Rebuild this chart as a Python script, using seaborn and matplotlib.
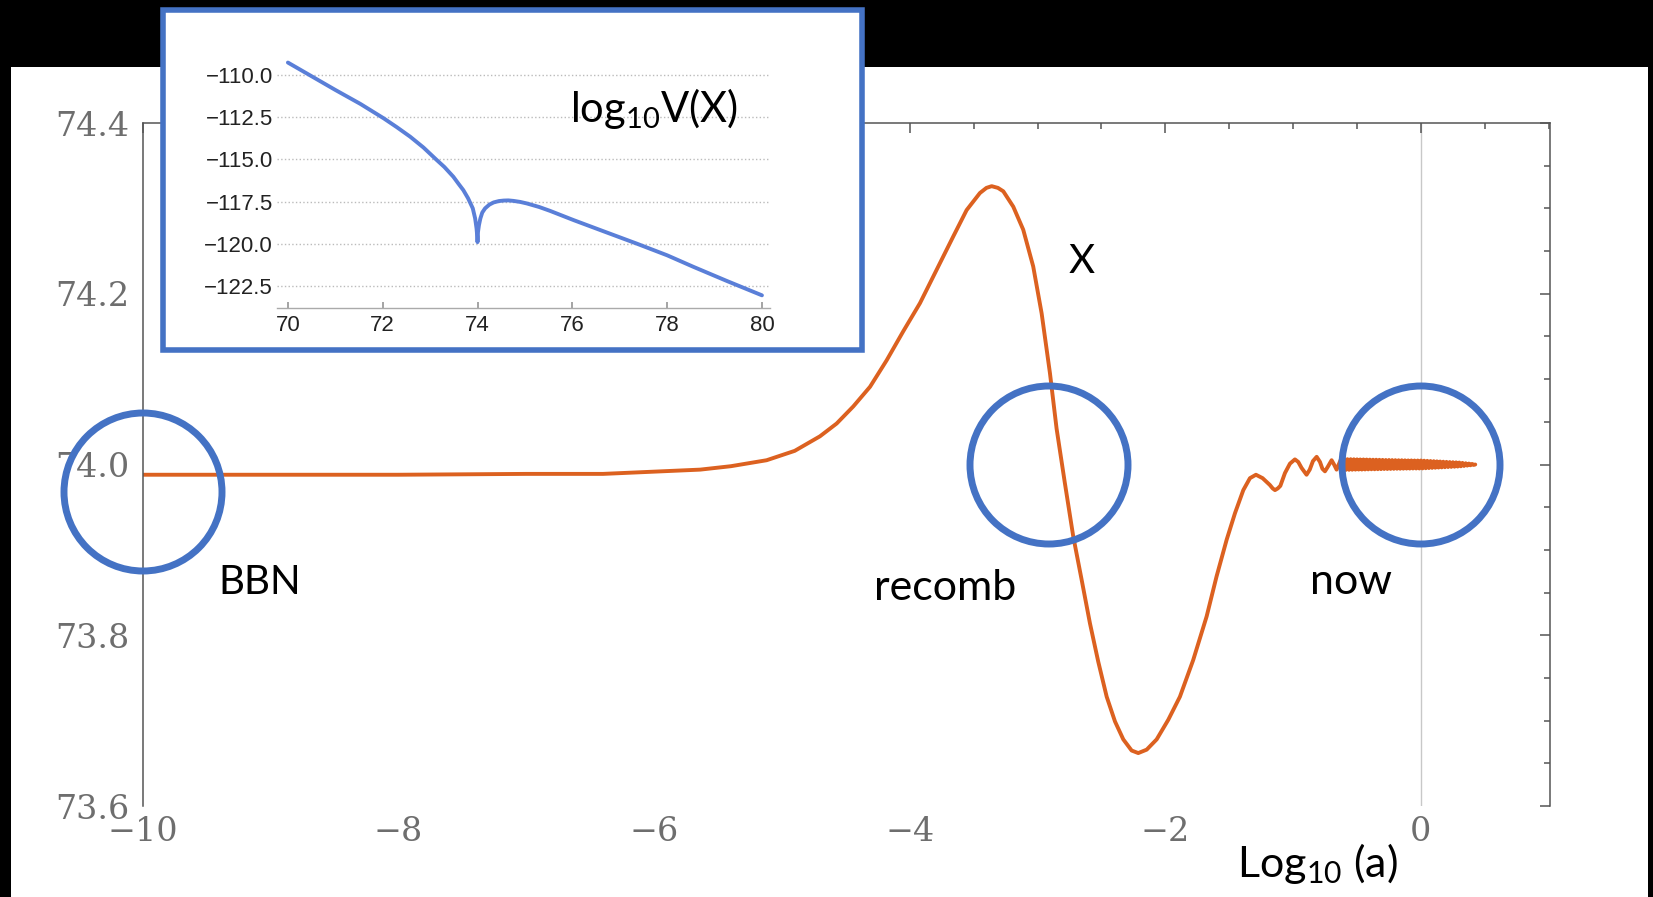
import numpy as np
import pandas as pd
import seaborn as sns
import matplotlib.pyplot as plt
from matplotlib.patches import Rectangle, Ellipse
from matplotlib.ticker import MultipleLocator, FuncFormatter

# main curve: X field vs log10(a)
log_a = [-10.0, -9.0, -8.0, -7.0, -6.4, -5.64, -5.4, -5.12, -4.9, -4.703, -4.572,
         -4.442, -4.311, -4.181, -4.051, -3.920, -3.790, -3.660, -3.555, -3.451,
         -3.40, -3.359, -3.31, -3.268, -3.190, -3.112, -3.034, -2.968, -2.903,
         -2.851, -2.786, -2.721, -2.655, -2.590, -2.525, -2.459, -2.394, -2.329,
         -2.264, -2.212, -2.146, -2.068, -1.977, -1.886, -1.782, -1.677, -1.599,
         -1.520, -1.455, -1.390, -1.338, -1.291, -1.239, -1.21, -1.182, -1.16,
         -1.142, -1.12, -1.10, -1.064, -1.025, -0.986, -0.96, -0.934, -0.895,
         -0.87, -0.845, -0.816, -0.79, -0.771, -0.751, -0.73, -0.699, -0.68, -0.660]
x_field = [73.988, 73.988, 73.988, 73.989, 73.989, 73.994, 73.998, 74.005, 74.016,
           74.033, 74.048, 74.068, 74.091, 74.122, 74.156, 74.189, 74.228, 74.267,
           74.298, 74.318, 74.324, 74.326, 74.324, 74.320, 74.302, 74.275, 74.232,
           74.177, 74.107, 74.042, 73.978, 73.916, 73.865, 73.814, 73.769, 73.728,
           73.699, 73.678, 73.665, 73.662, 73.666, 73.678, 73.701, 73.728, 73.771,
           73.822, 73.869, 73.912, 73.943, 73.970, 73.984, 73.988, 73.984, 73.980,
           73.976, 73.972, 73.970, 73.972, 73.975, 73.990, 74.001, 74.006, 74.003,
           73.996, 73.988, 73.994, 74.004, 74.009, 74.003, 73.995, 73.992, 73.997,
           74.005, 74.000, 73.994]

# fast oscillations near today (the thick band)
band_a = [-0.6250, -0.6125, -0.6000, -0.5875, -0.5750, -0.5625, -0.5500, -0.5375,
          -0.5250, -0.5125, -0.5000, -0.4875, -0.4750, -0.4625, -0.4500, -0.4375,
          -0.4250, -0.4125, -0.4000, -0.3875, -0.3750, -0.3625, -0.3500, -0.3375,
          -0.3250, -0.3125, -0.3000, -0.2875, -0.2750, -0.2625, -0.2500, -0.2375,
          -0.2250, -0.2125, -0.2000, -0.1875, -0.1750, -0.1625, -0.1500, -0.1375,
          -0.1250, -0.1125, -0.1000, -0.0875, -0.0750, -0.0625, -0.0500, -0.0375,
          -0.0250, -0.0125, 0.0000, 0.0125, 0.0250, 0.0375, 0.0500, 0.0625, 0.0750,
          0.0875, 0.1000, 0.1125, 0.1250, 0.1375, 0.1500, 0.1625, 0.1750, 0.1875,
          0.2000, 0.2125, 0.2250, 0.2375, 0.2500, 0.2625, 0.2750, 0.2875, 0.3000,
          0.3125, 0.3250, 0.3375, 0.3500, 0.3625, 0.3750, 0.3875, 0.4000, 0.4125,
          0.4250]
band_x = [74.0064, 73.9936, 74.0063, 73.9937, 74.0062, 73.9938, 74.0062, 73.9939,
          74.0061, 73.9940, 74.0060, 73.9941, 74.0059, 73.9941, 74.0059, 73.9942,
          74.0058, 73.9943, 74.0057, 73.9944, 74.0056, 73.9944, 74.0056, 73.9945,
          74.0055, 73.9946, 74.0054, 73.9947, 74.0053, 73.9947, 74.0053, 73.9948,
          74.0052, 73.9949, 74.0051, 73.9950, 74.0050, 73.9950, 74.0050, 73.9951,
          74.0049, 73.9952, 74.0048, 73.9952, 74.0048, 73.9953, 74.0047, 73.9953,
          74.0047, 73.9953, 74.0047, 73.9954, 74.0045, 73.9956, 74.0043, 73.9958,
          74.0041, 73.9960, 74.0039, 73.9962, 74.0037, 73.9964, 74.0035, 73.9966,
          74.0033, 73.9968, 74.0031, 73.9970, 74.0029, 73.9972, 74.0027, 73.9974,
          74.0025, 73.9976, 74.0023, 73.9979, 74.0019, 73.9983, 74.0015, 73.9987,
          74.0011, 73.9991, 74.0007, 73.9995, 74.0000]

# inset: log10 V(X)
inset_x = [70.0, 70.5, 71.0, 71.53, 72.02, 72.3, 72.58, 72.86, 73.14, 73.3, 73.49,
           73.6, 73.7, 73.8, 73.9, 73.95, 73.98, 73.995, 74.0, 74.01, 74.03, 74.06,
           74.1, 74.16, 74.25, 74.34, 74.45, 74.55, 74.65, 74.76, 74.9, 75.04, 75.3,
           75.53, 76.03, 76.66, 77.36, 78.0, 78.56, 79.26, 80.0]
inset_v = [-109.27, -110.08, -110.89, -111.72, -112.57, -113.1, -113.66, -114.3,
           -115.04, -115.45, -116.03, -116.45, -116.82, -117.3, -117.9, -118.5,
           -119.1, -119.6, -119.9, -119.3, -118.9, -118.5, -118.15, -117.9, -117.68,
           -117.55, -117.47, -117.44, -117.43, -117.46, -117.52, -117.61, -117.82,
           -118.05, -118.6, -119.26, -119.99, -120.68, -121.37, -122.2, -123.05]

W, H = 1653, 897
BLUE = "#4472C4"
ORANGE = "#DC6120"

sns.set_theme(style="white")
plt.rcParams["mathtext.fontset"] = "custom"
plt.rcParams["mathtext.rm"] = "Lato"
plt.rcParams["mathtext.it"] = "Lato:italic"
plt.rcParams["mathtext.bf"] = "Lato:bold"

fig = plt.figure(figsize=(W / 100, H / 100), dpi=100, facecolor="black")

def fx(px):
    return px / W

def fy(py):
    return 1 - py / H

# white page under the black frame
fig.patches.append(Rectangle((fx(11), 0), fx(1648) - fx(11), fy(67), transform=fig.transFigure,
                             facecolor="white", edgecolor="none", zorder=-10))

# ---- main axes ----
ax = fig.add_axes([fx(143), fy(806), fx(1550) - fx(143), fy(123) - fy(806)], zorder=0)
ax.set_facecolor("none")
main = pd.DataFrame({"a": log_a + band_a, "x": x_field + band_x})
sns.lineplot(data=main, x="a", y="x", ax=ax, color=ORANGE, lw=2.8, estimator=None, sort=False)
ax.axvline(0, color="#C8C8C8", lw=1.0, zorder=0.5)
ax.set_xlim(-10, 1.01)
ax.set_ylim(73.6, 74.4)
ax.set_xlabel("")
ax.set_ylabel("")
ax.set_xticks([-10, -8, -6, -4, -2, 0])
ax.xaxis.set_minor_locator(MultipleLocator(0.5))
ax.set_yticks([73.6, 73.8, 74.0, 74.2, 74.4])
ax.yaxis.set_minor_locator(MultipleLocator(0.05))
ax.yaxis.set_major_formatter(FuncFormatter(lambda v, p: f"{v:.1f}"))
ax.tick_params(which="both", direction="in", top=True, right=True, color="#555555", width=1.1)
ax.tick_params(which="major", length=7)
ax.tick_params(which="minor", length=4)
ax.tick_params(axis="x", which="major", pad=7)
ax.tick_params(axis="y", which="major", pad=10)
for lab in ax.get_xticklabels() + ax.get_yticklabels():
    lab.set_fontfamily("DejaVu Serif")
    lab.set_fontsize(24)
    lab.set_color("#6E6E6E")
for side in ["left", "right", "top"]:
    ax.spines[side].set_color("#555555")
    ax.spines[side].set_linewidth(1.1)
ax.spines["bottom"].set_visible(False)

# ---- inset box ----
fig.patches.append(Rectangle((fx(162.5), fy(350.5)), fx(861.5) - fx(162.5), fy(10.5) - fy(350.5),
                             transform=fig.transFigure, facecolor="white", edgecolor=BLUE,
                             lw=4.0, zorder=1))

ins = fig.add_axes([fx(277), fy(308), fx(770) - fx(277), fy(58) - fy(308)], zorder=2)
ins.set_facecolor("white")
sns.lineplot(x=inset_x, y=inset_v, ax=ins, color="#5A7FD8", lw=2.8, estimator=None, sort=False)
ins.set_xlim(69.77, 80.17)
ins.set_ylim(-123.8, -109.0)
ins.set_xticks([70, 72, 74, 76, 78, 80])
ins.set_yticks([-110.0, -112.5, -115.0, -117.5, -120.0, -122.5])
ins.yaxis.set_major_formatter(FuncFormatter(lambda v, p: f"{v:.1f}".replace("-", "\u2212")))
ins.grid(axis="y", ls=":", color="#BBBBBB", lw=1.0)
ins.grid(axis="x", visible=False)
for side in ["left", "right", "top"]:
    ins.spines[side].set_visible(False)
ins.spines["bottom"].set_color("#AAAAAA")
ins.spines["bottom"].set_linewidth(1.0)
ins.tick_params(axis="x", direction="in", length=4, color="#999999", bottom=True, pad=5)
ins.tick_params(axis="y", length=0, pad=3)
for lab in ins.get_xticklabels() + ins.get_yticklabels():
    lab.set_fontfamily("Liberation Sans")
    lab.set_fontsize(16)
    lab.set_color("#222222")

# ---- highlight circles ----
for cx, cy in [(143, 492), (1049, 465), (1421, 465)]:
    fig.patches.append(Ellipse((fx(cx), fy(cy)), 2 * 79 / W, 2 * 79 / H, transform=fig.transFigure,
                               fill=False, edgecolor=BLUE, lw=5, zorder=5))

# ---- annotations ----
txt = dict(family="Lato", color="black", va="baseline", ha="left", zorder=6)
fig.text(fx(218), fy(594), "BBN", fontsize=29, **txt)
fig.text(fx(874), fy(600), "recomb", fontsize=31, **txt)
fig.text(fx(1310), fy(594), "now", fontsize=31, **txt)
fig.text(fx(1069), fy(273), "X", fontsize=29, **txt)
fig.text(fx(1237), fy(877), r"Log$_{\rm 10}$ (a)", fontsize=31, **txt)
fig.text(fx(570), fy(122), r"log$_{\rm 10}$V(X)", fontsize=30, **txt)

fig.savefig("out.png", dpi=100, facecolor=fig.get_facecolor())
